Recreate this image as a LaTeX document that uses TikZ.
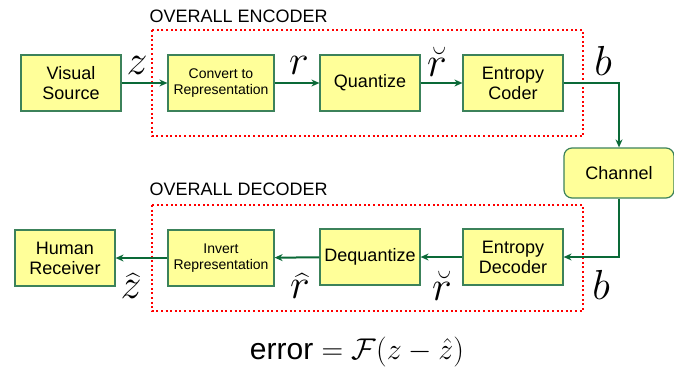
\documentclass[tikz,border=0pt]{standalone}
\usepackage{fix-cm}
\usepackage{amsmath}
\usepackage{fontspec}
\setmainfont{Liberation Sans}
\usetikzlibrary{arrows.meta}
\definecolor{boxfill}{RGB}{255,255,153}
\definecolor{boxline}{RGB}{60,130,90}
\definecolor{flow}{RGB}{10,105,55}
\begin{document}
\begin{tikzpicture}[x=1pt,y=-1pt,
    block/.style = {draw=boxline,fill=boxfill,line width=1.2pt,inner sep=0pt,
                    minimum width=100pt,minimum height=56pt,align=center,
                    font=\fontsize{18}{20}\selectfont},
    small/.style = {font=\fontsize{14}{16}\selectfont,minimum width=106pt},
    arrow/.style = {draw=flow,line width=2pt,-{Stealth[length=8pt,width=7pt]}},
    group/.style = {draw=red,line width=2pt,dash pattern=on 2pt off 2.6pt},
    title/.style = {anchor=west,font=\fontsize{18}{20}\selectfont},
    sym/.style = {inner sep=0pt,font=\fontsize{42}{46}\selectfont}]
    \useasboundingbox (0,0) rectangle (674,372);

    % encoder row
    \node[block] (src) at (71,83) {Visual\\Source};
    \node[block,small] (conv) at (221,83) {Convert to\\Representation};
    \node[block] (quant) at (370,83) {Quantize};
    \node[block] (ecoder) at (513,83) {Entropy\\Coder};

    \draw[group] (152,30) rectangle (583,136);
    \node[title] (enclabel) at (146,16) {OVERALL ENCODER};

    % channel
    \node[block,rounded corners=8pt,minimum width=110pt,minimum height=50pt] (chan) at (619,173) {Channel};

    % decoder row
    \node[block] (edecoder) at (513,257) {Entropy\\Decoder};
    \node[block] (dequant) at (370,257) {Dequantize};
    \node[block,small] (inv) at (221,258) {Invert\\Representation};
    \node[block] (recv) at (65,258) {Human\\Receiver};

    \draw[group] (152,205) rectangle (583,311);
    \node[title] (declabel) at (146,189) {OVERALL DECODER};

    % connectors
    \draw[arrow] (src) -- (conv);
    \draw[arrow] (conv) -- (quant);
    \draw[arrow] (quant) -- (ecoder);
    \draw[arrow] (ecoder.east) -| (chan.north);
    \draw[arrow] (chan.south) |- (edecoder.east);
    \draw[arrow] (edecoder) -- (dequant);
    \draw[arrow] (dequant) -- (inv);
    \draw[arrow] (inv) -- (recv);

    % signal names
    \node[sym] (z) at (137,65) {$z$};
    \node[sym] (r) at (299,65) {$r$};
    \node[sym] (rq) at (437,62) {$\breve{r}$};
    \node[sym] (b) at (603,61) {$b$};
    \node[sym] (zh) at (131,286) {$\widehat{z}$};
    \node[sym] (rh) at (300,286) {$\widehat{r}$};
    \node[sym] (rd) at (442,286) {$\breve{r}$};
    \node[sym] (bd) at (601,285) {$b$};

    \node[font=\fontsize{30}{34}\selectfont] (err) at (357,352) {$\mbox{error} = \mathcal{F}(z - \hat{z})$};
\end{tikzpicture}
\end{document}
